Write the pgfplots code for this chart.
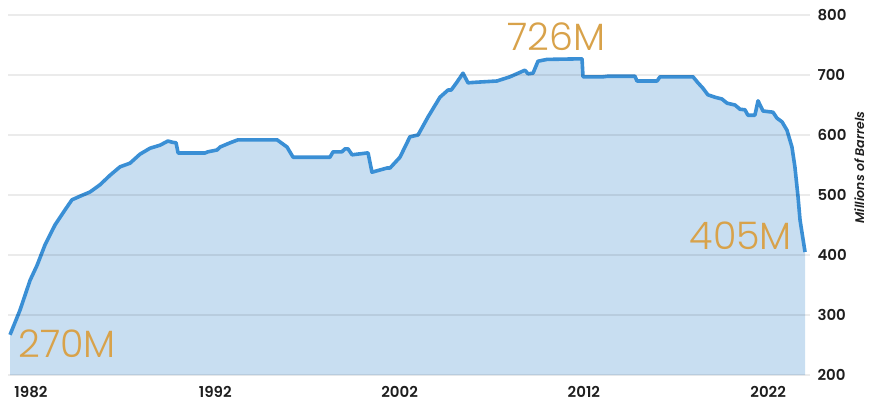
\documentclass[border=0pt]{standalone}
\usepackage{pgfplots}
\pgfplotsset{compat=1.18}
\usepackage{fontspec}
\setmainfont{Poppins}[UprightFont=* SemiBold]
\newfontfamily\hand{Poppins}[UprightFont=* Light]
\newfontfamily\labfont{Poppins}[UprightFont=* SemiBold Italic]
\definecolor{linec}{HTML}{3A8FD5}
\definecolor{fillc}{HTML}{C8DEF1}
\definecolor{annc}{HTML}{D8A24A}
\definecolor{txtc}{HTML}{1E1E1E}
\pgfplotstableread{
yr val
1980.86 267
1981.40 308
1981.95 358
1982.33 383
1982.76 417
1983.30 450
1983.84 475
1984.22 492
1984.66 498
1985.20 505
1985.74 517
1986.29 533
1986.83 547
1987.37 553
1987.91 568
1988.46 578
1989.00 583
1989.43 590
1989.65 588
1989.87 587
1989.98 570
1991.44 570
1991.60 572
1992.09 575
1992.26 580
1992.80 587
1993.23 592
1995.35 592
1995.89 580
1996.22 563
1998.22 563
1998.39 572
1998.87 572
1999.04 577
1999.20 577
1999.42 567
2000.23 570
2000.29 570
2000.50 538
2001.32 545
2001.48 545
2002.02 563
2002.56 597
2003.00 600
2003.54 630
2004.19 663
2004.63 675
2004.80 675
2005.11 688
2005.44 703
2005.71 687
2006.20 688
2007.28 690
2007.99 697
2008.80 708
2008.97 702
2009.24 703
2009.51 723
2010.00 726
2011.90 727
2011.95 697
2013.04 697
2013.31 698
2014.77 698
2014.88 690
2015.97 690
2016.13 697
2017.92 697
2018.19 687
2018.46 678
2018.73 667
2019.11 663
2019.49 660
2019.77 653
2020.20 650
2020.47 643
2020.74 642
2020.90 633
2021.28 633
2021.45 657
2021.72 640
2022.26 638
2022.48 628
2022.75 622
2023.02 608
2023.29 580
2023.45 547
2023.62 497
2023.73 458
2024.00 405
}\spr
\begin{document}
\begin{tikzpicture}
\begin{axis}[
  at={(8pt,35pt)}, anchor=south west,
  scale only axis, width=802pt, height=360pt,
  xmin=1980.75, xmax=2024.27, ymin=200, ymax=800,
  axis line style={draw=none},
  axis on top,
  ymajorgrids,
  grid style={black, opacity=0.08, line width=1.6pt},
  major tick length=0pt,
  xtick={1982,1992,2002,2012,2022},
  xticklabels={1982,1992,2002,2012,2022},
  ytick={200,300,...,800},
  yticklabel pos=right,
  /pgf/number format/assume math mode=true,
  /pgf/number format/1000 sep={},
  tick label style={font=\fontsize{15}{15}\selectfont, text=txtc},
  yticklabel style={anchor=west, xshift=4pt},
  xticklabel style={yshift=-8pt},
  clip=false,
]
\addplot[draw=none, fill=fillc] table[x=yr, y=val] {\spr} \closedcycle;
\addplot[linec, line width=3.6pt, line join=round] table[x=yr, y=val] {\spr};
\node[annc, font=\hand\fontsize{38}{38}\selectfont] at (axis cs:1983.95,253) {270M};
\node[annc, font=\hand\fontsize{38}{38}\selectfont] at (axis cs:2010.49,764) {726M};
\node[annc, font=\hand\fontsize{38}{38}\selectfont] at (axis cs:2020.52,432) {405M};
\node[rotate=90, text=txtc, inner sep=1pt, font=\labfont\fontsize{12.5}{12.5}\selectfont] at (axis cs:2026.95,546) {Millions of Barrels};
\end{axis}
\pgfresetboundingbox
\path[use as bounding box] (0,0) rectangle (873pt,410pt);
\end{tikzpicture}
\end{document}
